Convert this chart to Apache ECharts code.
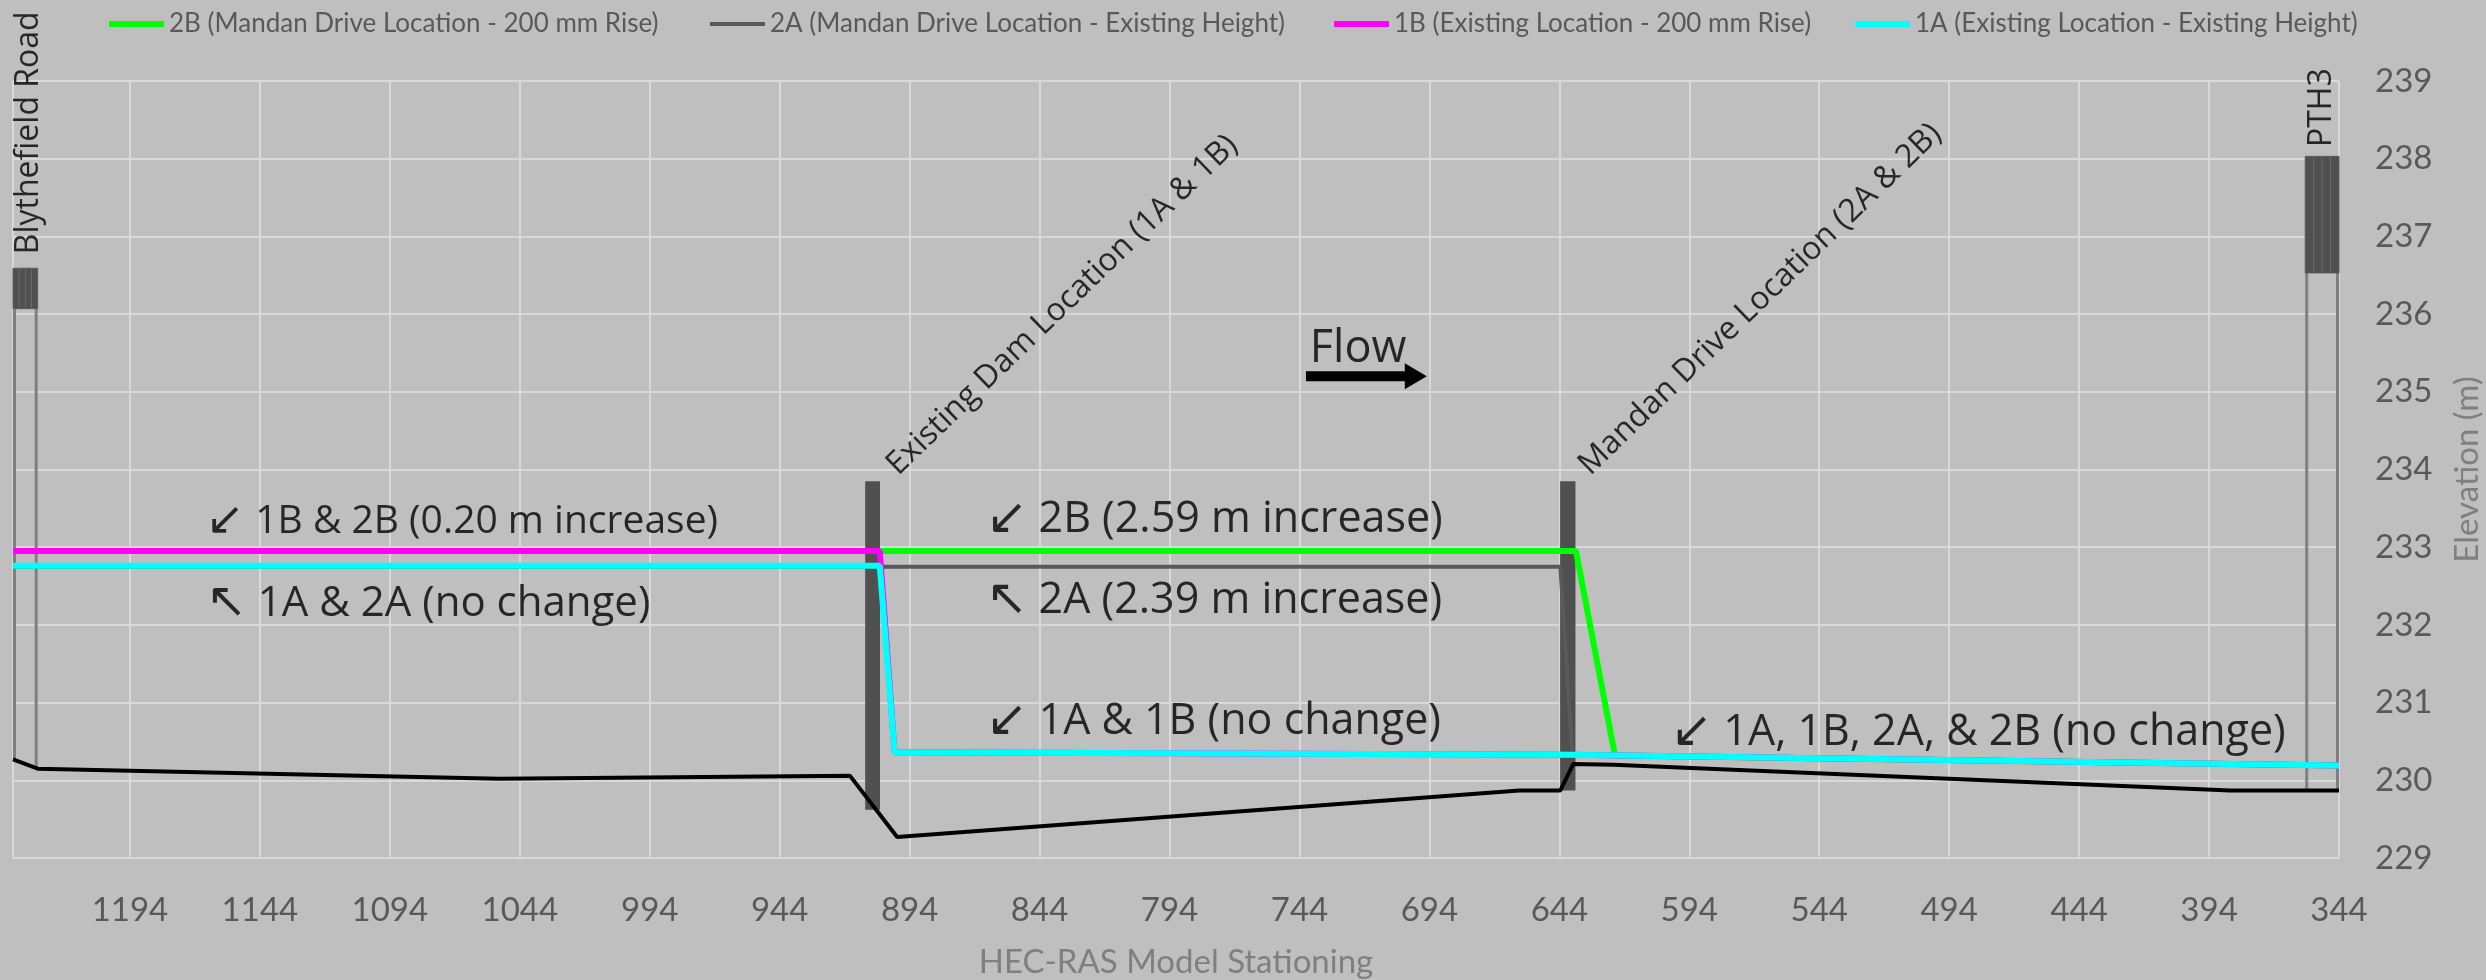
<!DOCTYPE html>
<html>
<head>
<meta charset="utf-8">
<title>Water surface profiles</title>
<script src="https://cdn.jsdelivr.net/npm/echarts@6/dist/echarts.min.js"></script>
<style>
  html, body { margin: 0; padding: 0; background: #bfbfbf; }
  #chart { width: 2486px; height: 980px; }
</style>
</head>
<body>
<div id="chart"></div>
<script>
// Channel bed (HEC-RAS stationing in m, elevation in m)
const groundStation = [1239, 1229.5, 1052, 917, 898.8, 659.4, 643.6, 638.6, 623.2, 385.8, 344];
const groundElev    = [230.27, 230.15, 230.02, 230.06, 229.27, 229.87, 229.87, 230.21, 230.20, 229.87, 229.87];

// Water surface profiles
const ws2BStation = [1239, 637.6, 622.6, 344];
const ws2BElev    = [232.95, 232.95, 230.32, 230.19];
const ws2AStation = [1239, 643.6, 639.0, 344];
const ws2AElev    = [232.75, 232.75, 230.33, 230.19];
const ws1BStation = [1239, 905.5, 899.8, 640, 344];
const ws1BElev    = [232.95, 232.95, 230.36, 230.33, 230.19];
const ws1AStation = [1239, 905.5, 899.8, 640, 344];
const ws1AElev    = [232.76, 232.76, 230.36, 230.33, 230.19];

const seriesNames = [
  '2B (Mandan Drive Location - 200 mm Rise)',
  '2A (Mandan Drive Location - Existing Height)',
  '1B (Existing Location - 200 mm Rise)',
  '1A (Existing Location - Existing Height)'
];

// Structures: bridges and dams
const structName      = ['Blythefield Road', 'Existing Dam Location (1A & 1B)', 'Mandan Drive Location (2A & 2B)', 'PTH3'];
const structUpSta     = [1239, 911.1, 643.7, 357];
const structDownSta   = [1229.5, 905.4, 637.8, 344];
const structLowChord  = [236.07, 229.62, 229.87, 236.53];
const structTop       = [236.59, 233.85, 233.85, 238.03];
const structGroundUp  = [230.27, 229.62, 229.87, 229.87];
const structGroundDn  = [230.15, 229.62, 229.87, 229.87];
const structLabelSta  = [1232.8, 896.5, 630.3, 350.4];
const structLabelElev = [236.77, 233.85, 233.85, 238.15];
const structLabelRot  = [90, 44, 44, 90];

// Callout notes
const noteArrow = ['\u2199', '\u2196', '\u2199', '\u2196', '\u2199', '\u2199'];
const noteText = [
  '1B & 2B (0.20 m increase)',
  '1A & 2A (no change)',
  '2B (2.59 m increase)',
  '2A (2.39 m increase)',
  '1A & 1B (no change)',
  '1A, 1B, 2A, & 2B (no change)'
];
const noteSta  = [1164.7, 1164.7, 864.6, 864.6, 864.6, 601.1];
const noteElev = [233.33, 232.27, 233.35, 232.31, 230.75, 230.61];
const noteFontSize = [39, 42, 43, 43, 43, 43];

// Flow direction marker
const flowLabel = 'Flow';
const flowLabelSta = 740, flowLabelElev = 235.55;
const flowArrowFrom = 741.5, flowArrowTo = 695, flowArrowElev = 235.2;

// Axis ticks
const xMin = 344, xMax = 1239, xStep = 50;
const yMin = 229, yMax = 239, yStep = 1;

const zip = (a, b) => a.map((v, i) => [v, b[i]]);

const axisFont = 'Lato, "Liberation Sans", sans-serif';
const noteFont = '"Open Sans", "Noto Sans", "DejaVu Sans", sans-serif';

const chart = echarts.init(document.getElementById('chart'), null, { renderer: 'canvas' });

function lineSeries(name, sta, elev, color, width) {
  return {
    name, type: 'line', data: zip(sta, elev),
    showSymbol: false, symbol: 'none', animation: false, silent: true,
    lineStyle: { color, width }, itemStyle: { color }, z: 3
  };
}

const legendLeft = [104, 705, 1329, 1850];
const legendHeight = [6, 4, 6, 6];

const option = {
  backgroundColor: '#bfbfbf',
  animation: false,
  grid: { left: 13, right: 147, top: 81, bottom: 122, containLabel: false, outerBoundsMode: 'none' },
  legend: seriesNames.map((n, i) => ({
    data: [n], left: legendLeft[i], top: 6,
    icon: 'rect', itemWidth: 55, itemHeight: legendHeight[i], itemGap: 0,
    textStyle: { fontFamily: axisFont, fontSize: 26, color: '#595959', padding: [0, 0, 0, 0] },
    selectedMode: false
  })),
  xAxis: {
    type: 'value', inverse: true, min: xMin, max: xMax, interval: xStep,
    name: 'HEC-RAS Model Stationing', nameLocation: 'middle', nameGap: 88,
    nameTextStyle: { fontFamily: axisFont, fontSize: 33, color: '#7f7f7f' },
    axisLine: { show: false }, axisTick: { show: false },
    axisLabel: { color: '#595959', fontFamily: axisFont, fontSize: 33, margin: 36,
                 showMaxLabel: false, formatter: v => String(v) },
    splitLine: { show: true, lineStyle: { color: '#d9d9d9', width: 2 } }
  },
  yAxis: {
    type: 'value', position: 'right', min: yMin, max: yMax, interval: yStep,
    name: 'Elevation (m)', nameLocation: 'middle', nameRotate: 90, nameGap: 112,
    nameTextStyle: { fontFamily: axisFont, fontSize: 33, color: '#7f7f7f' },
    axisLine: { show: false }, axisTick: { show: false },
    axisLabel: { color: '#595959', fontFamily: axisFont, fontSize: 33, margin: 36 },
    splitLine: { show: true, lineStyle: { color: '#d9d9d9', width: 2 } }
  },
  series: [
    {
      name: 'structures', type: 'custom', z: 1, silent: true, animation: false,
      data: structName.map((n, i) => [structUpSta[i], structDownSta[i], structLowChord[i],
                                       structTop[i], structGroundUp[i], structGroundDn[i]]),
      renderItem: function (params, api) {
        const up = api.value(0), dn = api.value(1), low = api.value(2), top = api.value(3);
        const gUp = api.value(4), gDn = api.value(5);
        const a = api.coord([up, top]);
        const b = api.coord([dn, low]);
        const x0 = Math.min(a[0], b[0]), x1 = Math.max(a[0], b[0]);
        const children = [{
          type: 'rect',
          shape: { x: x0, y: a[1], width: x1 - x0, height: b[1] - a[1] },
          style: { fill: '#505050' }
        }];
        const isBridge = low > Math.max(gUp, gDn) + 1;
        if (isBridge) {
          const gu = api.coord([up, gUp]);
          const gd = api.coord([dn, gDn]);
          children.push({ type: 'line', shape: { x1: gu[0] + 1.5, y1: b[1], x2: gu[0] + 1.5, y2: gu[1] },
                          style: { stroke: '#7f7f7f', lineWidth: 3 } });
          children.push({ type: 'line', shape: { x1: gd[0] - 1.5, y1: b[1], x2: gd[0] - 1.5, y2: gd[1] },
                          style: { stroke: '#7f7f7f', lineWidth: 3 } });
          // deck hatching
          const n = 3;
          for (let k = 1; k <= n; k++) {
            const xs = x0 + (x1 - x0) * k / (n + 1);
            children.push({ type: 'line', shape: { x1: xs, y1: a[1], x2: xs, y2: b[1] },
                            style: { stroke: '#6a6a6a', lineWidth: 1 } });
          }
          children.push({ type: 'rect', shape: { x: x0, y: a[1], width: x1 - x0, height: b[1] - a[1] },
                          style: { fill: 'none', stroke: '#5a5a5a', lineWidth: 1 } });
        }
        return { type: 'group', children };
      }
    },
    {
      name: 'ground', type: 'line', data: zip(groundStation, groundElev),
      showSymbol: false, symbol: 'none', silent: true, z: 2,
      lineStyle: { color: '#000000', width: 4 }
    },
    lineSeries(seriesNames[0], ws2BStation, ws2BElev, '#00ff00', 6),
    lineSeries(seriesNames[1], ws2AStation, ws2AElev, '#595959', 4),
    lineSeries(seriesNames[2], ws1BStation, ws1BElev, '#ff00ff', 6),
    lineSeries(seriesNames[3], ws1AStation, ws1AElev, '#00ffff', 6),
    {
      name: 'flowArrow', type: 'custom', z: 4, silent: true,
      data: [[flowArrowFrom, flowArrowTo, flowArrowElev]],
      renderItem: function (params, api) {
        const p = api.coord([api.value(0), api.value(2)]);
        const q = api.coord([api.value(1), api.value(2)]);
        const headLen = 22, halfShaft = 5, halfHead = 13;
        const hx = q[0] - headLen;
        return {
          type: 'polygon',
          shape: { points: [[p[0], p[1] - halfShaft], [hx, p[1] - halfShaft], [hx, p[1] - halfHead],
                            [q[0], q[1]], [hx, p[1] + halfHead], [hx, p[1] + halfShaft], [p[0], p[1] + halfShaft]] },
          style: { fill: '#000000' }
        };
      }
    },
    {
      name: 'notes', type: 'scatter', z: 5, silent: true, symbolSize: 0,
      data: noteText.map((t, i) => ({
        value: [noteSta[i], noteElev[i]],
        label: {
          formatter: '{a|' + noteArrow[i] + '} {t|' + t + '}',
          rich: {
            a: { fontFamily: '"DejaVu Sans", sans-serif', fontSize: noteFontSize[i] + 7, color: '#000000' },
            t: { fontFamily: noteFont, fontSize: noteFontSize[i], color: '#000000' }
          }
        }
      })),
      label: { show: true, position: 'right', distance: 0, color: '#000000',
               fontFamily: noteFont, fontSize: 41 }
    },
    {
      name: 'flowText', type: 'scatter', z: 5, silent: true, symbolSize: 0,
      data: [{ value: [flowLabelSta, flowLabelElev], label: { formatter: flowLabel } }],
      label: { show: true, position: 'right', distance: 0, color: '#000000',
               fontFamily: noteFont, fontSize: 45 }
    },
    {
      name: 'structureLabels', type: 'scatter', z: 5, silent: true, symbolSize: 0,
      data: structName.map((t, i) => ({
        value: [structLabelSta[i], structLabelElev[i]],
        label: { formatter: t, rotate: structLabelRot[i],
                 verticalAlign: structLabelRot[i] === 90 ? 'middle' : 'bottom' }
      })),
      label: { show: true, position: 'right', distance: 0, align: 'left', color: '#000000',
               fontFamily: noteFont, fontSize: 32 }
    }
  ]
};

chart.setOption(option);
</script>
</body>
</html>
